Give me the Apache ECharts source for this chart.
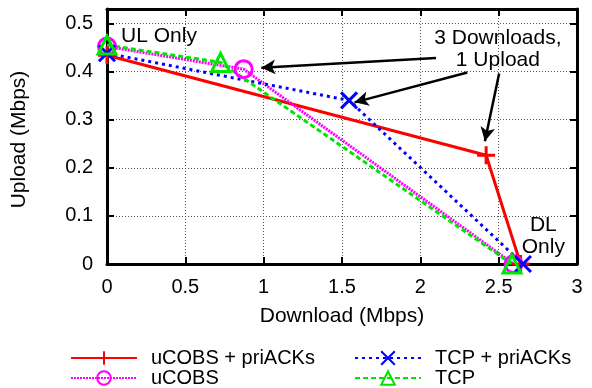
<!DOCTYPE html>
<html>
<head>
<meta charset="utf-8">
<script src="https://cdn.jsdelivr.net/npm/echarts@6/dist/echarts.min.js"></script>
<style>
  html, body { margin: 0; padding: 0; background: #fff; }
  #chart { width: 592px; height: 388px; }
</style>
</head>
<body>
<div id="chart"></div>
<script>
// values (download, upload) in Mbps
var ucobsPri = [[0, 0.434], [2.42, 0.226], [2.64, 0]];
var ucobs = [[0, 0.452], [0.872, 0.405], [2.595, 0]];
var tcpPri = [[0, 0.438], [1.545, 0.34], [2.655, 0]];
var tcp = [[0, 0.455], [0.725, 0.419], [2.585, 0]];

var names = ['uCOBS + priACKs', 'uCOBS', 'TCP + priACKs', 'TCP'];

// annotation text and arrows, in data units
var notes = [
  { at: [0.09, 0.474], text: 'UL Only', align: 'left' },
  { at: [2.495, 0.446], text: '3 Downloads,\n1 Upload', align: 'center' },
  { at: [2.785, 0.058], text: 'DL\nOnly', align: 'center' }
];
var arrows = [
  [[2.10, 0.428], [0.985, 0.408]],
  [[2.30, 0.398], [1.58, 0.336]],
  [[2.503, 0.396], [2.412, 0.255]]
];

var FONT = 'Liberation Sans, Arial, sans-serif';
var plusPath = 'path://M0,5L10,5M5,0L5,10';
var crossPath = 'path://M0,0L10,10M0,10L10,0';

var chart = echarts.init(document.getElementById('chart'));

function mkSeries(name, data, color, dash, symbol, size) {
  return {
    name: name,
    type: 'line',
    data: data,
    symbol: symbol,
    symbolSize: size,
    showAllSymbol: true,
    lineStyle: { color: color, width: 3, type: dash },
    itemStyle: { color: 'rgba(0,0,0,0)', borderColor: color, borderWidth: 3 },
    emphasis: { disabled: true },
    animation: false
  };
}

function mkLegend(name, left, top) {
  return {
    data: [name], left: left, top: top, padding: 0,
    itemWidth: 66, itemHeight: 17,
    textStyle: { color: '#000', fontSize: 20, fontFamily: FONT, lineHeight: 20, padding: [0, 0, 0, 9] },
    selectedMode: false
  };
}

var gridLine = { show: true, lineStyle: { color: '#555', width: 1, type: [1, 2] } };
var border = { show: true, onZero: false, lineStyle: { color: '#000', width: 3 } };
var ticks = { show: true, inside: true, length: 7, lineStyle: { color: '#000', width: 2 } };
var labelStyle = { color: '#000', fontSize: 20, fontFamily: FONT };
var nameStyle = { color: '#000', fontSize: 21, fontFamily: FONT };

var option = {
  backgroundColor: '#fff',
  grid: { left: 107, right: 15, top: 9, bottom: 124 },
  xAxis: [{
    type: 'value', min: 0, max: 3, interval: 0.5,
    name: 'Download (Mbps)', nameLocation: 'middle', nameGap: 42,
    nameTextStyle: nameStyle,
    axisLine: border, axisTick: ticks, splitLine: gridLine,
    axisLabel: Object.assign({ margin: 13 }, labelStyle)
  }, {
    type: 'value', min: 0, max: 3, interval: 0.5, position: 'top',
    axisLine: border, axisTick: ticks, splitLine: { show: false },
    axisLabel: { show: false }
  }],
  yAxis: [{
    type: 'value', min: 0, max: 0.53, interval: 0.1,
    name: 'Upload (Mbps)', nameLocation: 'middle', nameGap: 77,
    nameTextStyle: Object.assign({ padding: [0, 6, 0, 0] }, nameStyle),
    axisLine: border, axisTick: ticks, splitLine: gridLine,
    axisLabel: Object.assign({ margin: 14, showMaxLabel: false }, labelStyle)
  }, {
    type: 'value', min: 0, max: 0.53, interval: 0.1, position: 'right',
    axisLine: border, axisTick: ticks, splitLine: { show: false },
    axisLabel: { show: false }
  }],
  legend: [
    mkLegend(names[0], 70, 348),
    mkLegend(names[1], 70, 368),
    mkLegend(names[2], 354, 348),
    mkLegend(names[3], 354, 368)
  ],
  series: [
    mkSeries(names[0], ucobsPri, '#ff0000', 'solid', plusPath, 18),
    mkSeries(names[1], ucobs, '#ff00ff', [2, 1], 'circle', 17),
    mkSeries(names[2], tcpPri, '#0000ff', [3, 4], crossPath, 16),
    mkSeries(names[3], tcp, '#00e600', [5, 3], 'triangle', 18),
    {
      name: 'notes', type: 'line', data: [], silent: true, animation: false,
      markLine: {
        silent: true, animation: false,
        symbol: ['none', 'arrow'], symbolSize: [11, 14],
        label: { show: false },
        lineStyle: { color: '#000', width: 2.5, type: 'solid' },
        data: arrows.map(function (a) { return [{ coord: a[0] }, { coord: a[1] }]; })
      },
      markPoint: {
        silent: true, animation: false,
        symbol: 'circle', symbolSize: 0,
        data: notes.map(function (n) {
          return {
            coord: n.at,
            label: {
              show: true, position: 'inside', formatter: n.text, align: n.align,
              color: '#000', fontSize: 21, lineHeight: 22, fontFamily: FONT
            }
          };
        })
      }
    }
  ]
};

chart.setOption(option);
</script>
</body>
</html>
